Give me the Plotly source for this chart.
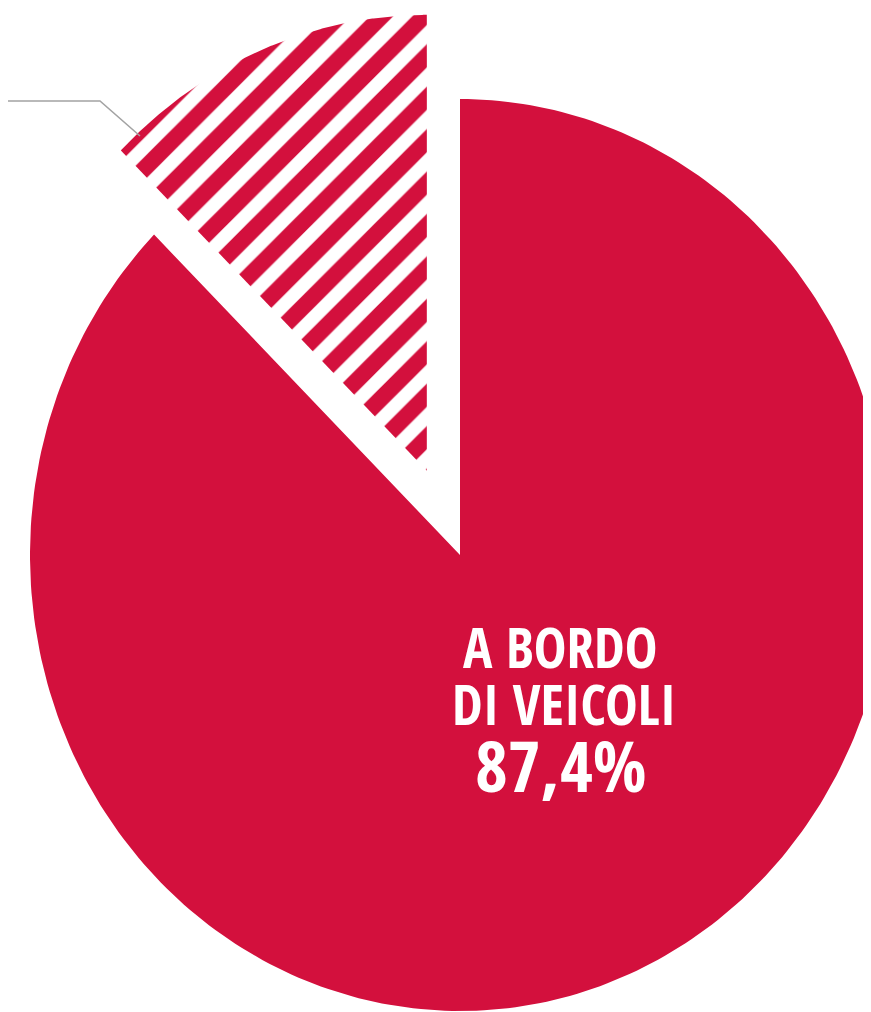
import numpy as np
import plotly.graph_objects as go

# ---- data ----
categories = ["A BORDO DI VEICOLI", "ALTRO"]
values = [87.4, 12.6]
pulls = [0.0, 0.2]
label_lines = ["A BORDO", "DI VEICOLI"]
value_labels = ["87,4%", "12,6%"]

RED = "#D3103D"
W, H = 871, 1012
OFF = 8                # browser body margin
CX, CY = 460, 555      # pie centre (screen-pixel axis units)
RX, RY = 430, 456      # radii

fig = go.Figure()

total = sum(values)
start = 0.0
for i, (cat, v) in enumerate(zip(categories, values)):
    frac = v / total
    a0, a1 = start * 2 * np.pi, (start + frac) * 2 * np.pi
    mid = (a0 + a1) / 2
    ox = RX * pulls[i] * np.sin(mid)
    oy = -RY * pulls[i] * np.cos(mid)
    t = np.linspace(a0, a1, 300)
    xs = np.concatenate([[CX + ox], CX + ox + RX * np.sin(t), [CX + ox]])
    ys = np.concatenate([[CY + oy], CY + oy - RY * np.cos(t), [CY + oy]])
    if i == 0:
        fig.add_trace(go.Scatter(x=xs, y=ys, mode="lines", fill="toself",
                                 fillcolor=RED, line=dict(width=0),
                                 hoverinfo="skip", name=cat))
    else:
        fig.add_trace(go.Scatter(x=xs, y=ys, mode="lines", fill="toself",
                                 fillcolor="white", line=dict(width=0),
                                 fillpattern=dict(shape="/", fgcolor=RED, bgcolor="white",
                                                  size=30, solidity=0.55, fillmode="replace"),
                                 hoverinfo="skip", name=cat))
    start += frac

# leader line toward the pulled slice
fig.add_shape(type="path", path="M 0 101 L 100 101 L 140 136",
              line=dict(color="#A3A3A3", width=1.6))

font = "Open Sans Condensed, Roboto Condensed, sans-serif"
fig.add_annotation(x=560, y=646, text="<b>%s</b>" % label_lines[0], showarrow=False,
                   font=dict(family=font, size=55, color="white"), xanchor="center", yanchor="middle")
fig.add_annotation(x=564, y=703, text="<b>%s</b>" % label_lines[1], showarrow=False,
                   font=dict(family=font, size=55, color="white"), xanchor="center", yanchor="middle")
fig.add_annotation(x=561, y=764, text="<b>%s</b>" % value_labels[0], showarrow=False,
                   font=dict(family=font, size=71, color="white"), xanchor="center", yanchor="middle")

FW = W
fig.update_layout(
    width=FW, height=H - OFF, margin=dict(l=0, r=0, t=0, b=0),
    paper_bgcolor="white", plot_bgcolor="white", showlegend=False,
    xaxis=dict(range=[OFF, OFF + FW], visible=False, fixedrange=True),
    yaxis=dict(range=[H, OFF], visible=False, fixedrange=True),
)
fig.write_html("out.html")
